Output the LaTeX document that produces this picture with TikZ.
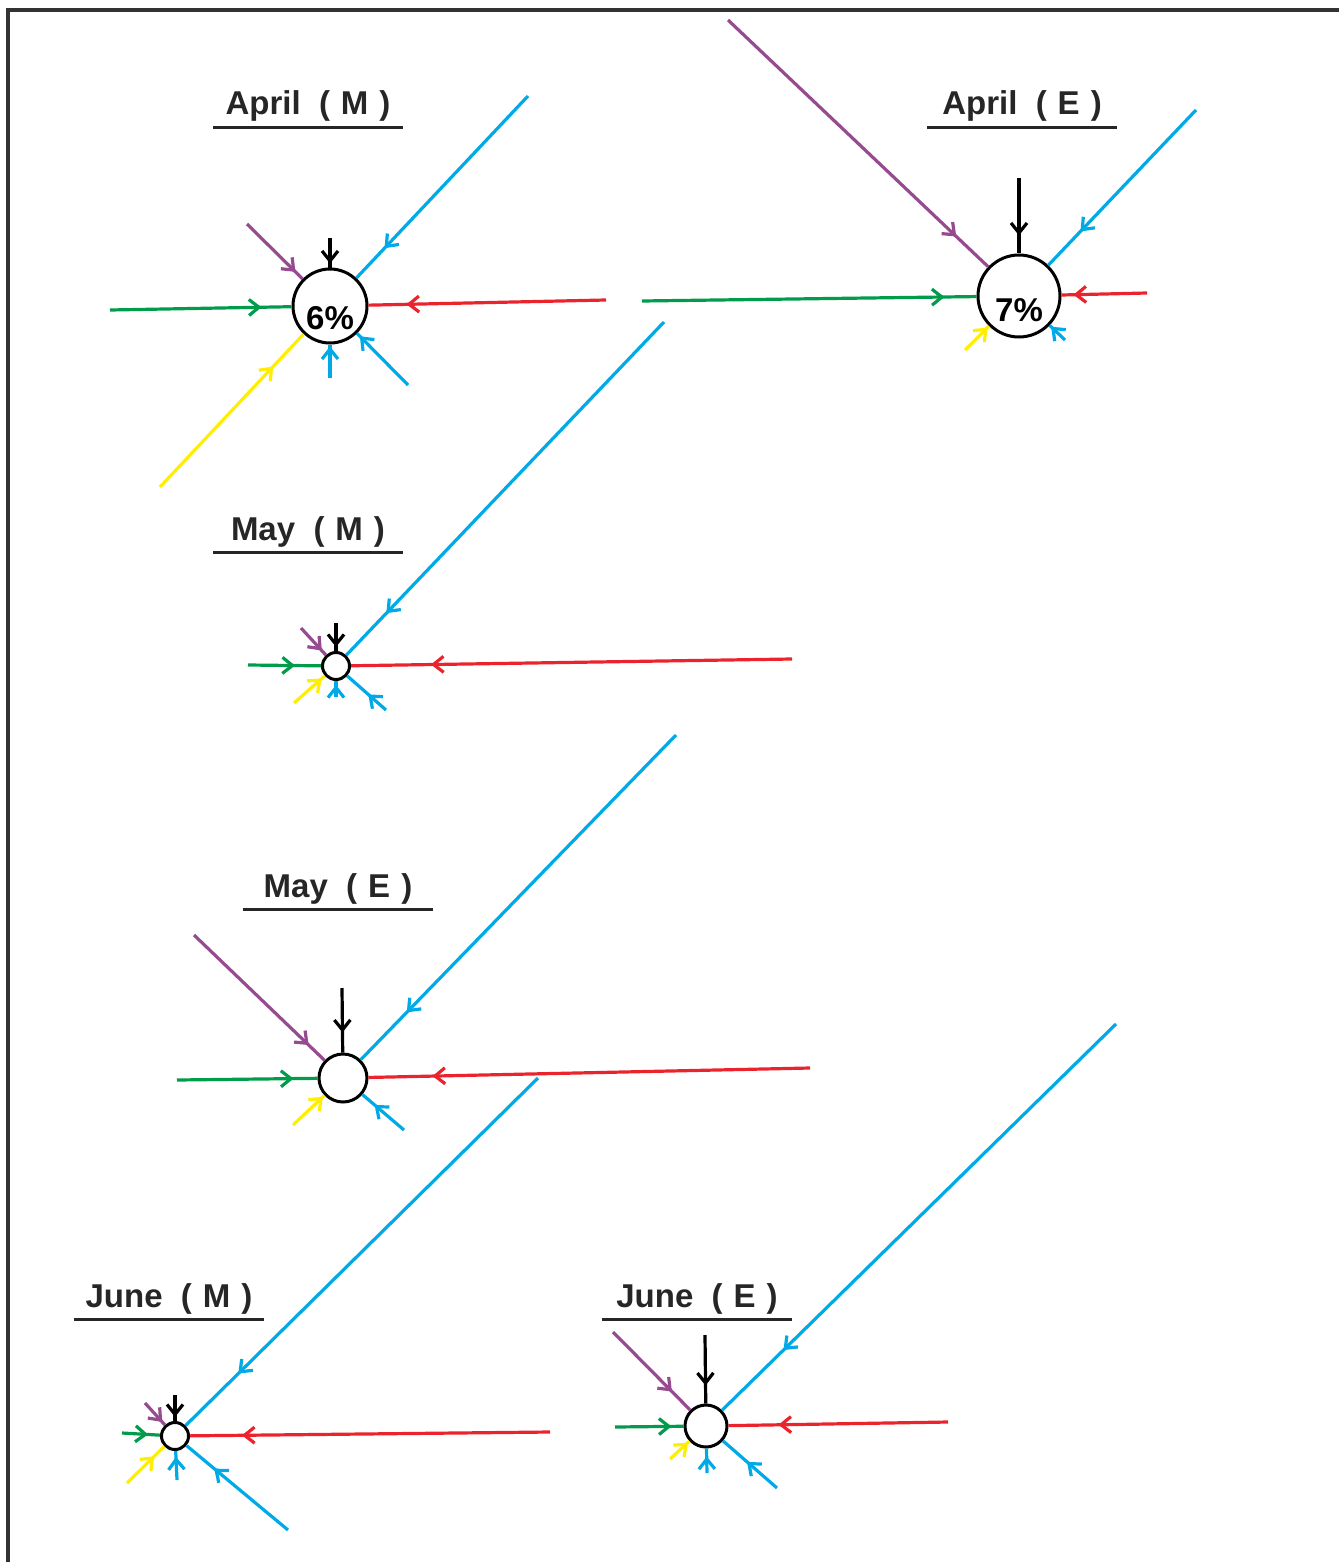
\documentclass[tikz,border=0pt]{standalone}
\usepackage{fontspec}
\setmainfont{Liberation Sans}
\usetikzlibrary{arrows.meta, decorations.markings}

\definecolor{flowgreen}{RGB}{0,155,75}
\definecolor{flowred}{RGB}{235,35,45}
\definecolor{flowblue}{RGB}{0,170,230}
\definecolor{flowpurple}{RGB}{150,75,145}
\definecolor{flowyellow}{RGB}{255,238,0}

\newcommand{\gp}{\hspace{5.5pt}}

\tikzset{
  site/.style={circle, draw=black, line width=1.5pt, fill=white, inner sep=0pt},
  pct/.style={font=\fontsize{16.5}{18}\selectfont\bfseries, inner sep=0pt},
  title/.style={font=\fontsize{16.5}{18}\selectfont\bfseries, text=black!85, anchor=base,
    text depth=0pt, inner xsep=0pt, inner ysep=6pt, minimum width=94.5pt},
  rule/.style={line width=1.6pt, black!85},
  flow/.style={line width=1.6pt},
  midarrow/.style={postaction={decorate}, decoration={markings,
    mark=at position #1 with {\arrow{Straight Barb[length=5pt,width=8pt]}}}},
}

\begin{document}
\begin{tikzpicture}[x=0.5pt, y=-0.5pt]
  \useasboundingbox (0,0) rectangle (1339,1562);
  % frame (left and top only)
  \draw[line width=2pt, black!80] (8,1562) -- (8,10) -- (1339,10);

  % April (M)
  \node[site, minimum size=37pt] (aprM) at (330,306) {};
  \node[pct, yshift=-6pt] (aprMp) at (aprM) {6\%};
  \node[title] (aprMt) at (308,115) {April\ \ (\gp M\gp)};
  \draw[rule] (aprMt.south west) -- (aprMt.south east);
  \foreach \x/\y/\c/\d in {110/310/flowgreen/15pt, 606/300/flowred/19pt, 528/96/flowblue/20pt,
      247/224/flowpurple/5pt, 330/238/black/2pt, 160/487/flowyellow/22pt,
      330/378/flowblue/1pt, 408/385/flowblue/2pt} {
    \coordinate (src) at (\x,\y);
    \draw[flow, \c, midarrow=-\d] (src) -- (aprM);
  }

  % April (E)
  \node[site, minimum size=41pt] (aprE) at (1019,296) {};
  \node[pct, yshift=-7pt] (aprEp) at (aprE) {7\%};
  \node[title] (aprEt) at (1022,115) {April\ \ (\gp E\gp)};
  \draw[rule] (aprEt.south west) -- (aprEt.south east);
  \foreach \x/\y/\c/\d in {728/20/flowpurple/22pt, 1019/178/black/9pt, 1196/110/flowblue/23pt,
      642/301/flowgreen/16pt, 1147/293/flowred/6pt, 965/350/flowyellow/1pt,
      1065/340/flowblue/1pt} {
    \coordinate (src) at (\x,\y);
    \draw[flow, \c, midarrow=-\d] (src) -- (aprE);
  }

  % May (M)
  \node[site, minimum size=13.5pt] (mayM) at (336,666) {};
  \node[title] (mayMt) at (308,540) {May\ \ (\gp M\gp)};
  \draw[rule] (mayMt.south west) -- (mayMt.south east);
  \foreach \x/\y/\c/\d in {248/665/flowgreen/13pt, 792/659/flowred/40pt, 664/322/flowblue/29pt,
      301/628/flowpurple/3pt, 336/623/black/2pt, 294/703/flowyellow/2pt,
      336/697/flowblue/2pt, 386/710/flowblue/14pt} {
    \coordinate (src) at (\x,\y);
    \draw[flow, \c, midarrow=-\d] (src) -- (mayM);
  }

  % May (E)
  \node[site, minimum size=24pt] (mayE) at (343,1078) {};
  \node[title] (mayEt) at (338,897) {May\ \ (\gp E\gp)};
  \draw[rule] (mayEt.south west) -- (mayEt.south east);
  \foreach \x/\y/\c/\d in {194/935/flowpurple/11pt, 342/988/black/10pt, 676/735/flowblue/33pt,
      177/1080/flowgreen/12pt, 810/1068/flowred/32pt, 293/1125/flowyellow/1pt,
      404/1130/flowblue/8pt} {
    \coordinate (src) at (\x,\y);
    \draw[flow, \c, midarrow=-\d] (src) -- (mayE);
  }

  % June (M)
  \node[site, minimum size=13.5pt] (junM) at (175,1436) {};
  \node[title] (junMt) at (169,1307) {June\ \ (\gp M\gp)};
  \draw[rule] (junMt.south west) -- (junMt.south east);
  \foreach \x/\y/\c/\d in {145/1403/flowpurple/2pt, 175/1395/black/2pt, 538/1078/flowblue/37pt,
      122/1433/flowgreen/6pt, 550/1432/flowred/26pt, 127/1483/flowyellow/7pt,
      177/1480/flowblue/3pt, 288/1530/flowblue/18pt} {
    \coordinate (src) at (\x,\y);
    \draw[flow, \c, midarrow=-\d] (src) -- (junM);
  }

  % June (E)
  \node[site, minimum size=21pt] (junE) at (706,1426) {};
  \node[title] (junEt) at (697,1307) {June\ \ (\gp E\gp)};
  \draw[rule] (junEt.south west) -- (junEt.south east);
  \foreach \x/\y/\c/\d in {613/1332/flowpurple/13pt, 705/1335/black/9pt, 1116/1024/flowblue/43pt,
      615/1427/flowgreen/6pt, 948/1422/flowred/25pt, 670/1459/flowyellow/1pt,
      707/1473/flowblue/4pt, 777/1488/flowblue/16pt} {
    \coordinate (src) at (\x,\y);
    \draw[flow, \c, midarrow=-\d] (src) -- (junE);
  }
\end{tikzpicture}
\end{document}
